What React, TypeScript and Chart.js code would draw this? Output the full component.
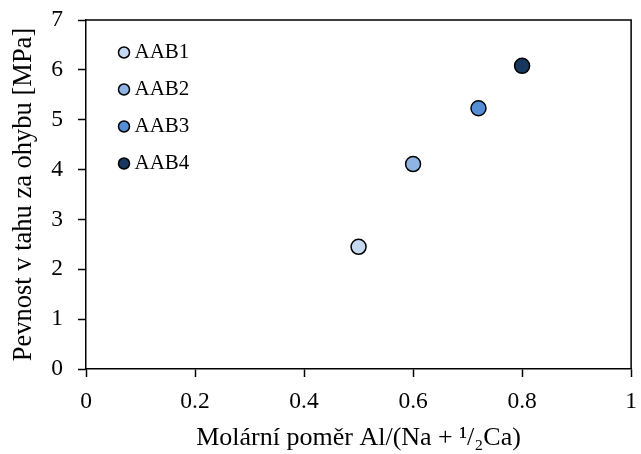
import React, { useEffect, useRef } from "react";
import { Chart, registerables } from "chart.js";

Chart.register(...registerables);

// ---- data ----
const categories = ["AAB1", "AAB2", "AAB3", "AAB4"];
const molarRatio = [0.5, 0.6, 0.72, 0.8];
const flexuralStrength = [2.45, 4.11, 5.23, 6.08];
const xTickValues = [0, 0.2, 0.4, 0.6, 0.8, 1];
const yTickValues = [0, 1, 2, 3, 4, 5, 6, 7];
const xTitle = "Molární poměr Al/(Na + ¹/₂Ca)";
const yTitle = "Pevnost v tahu za ohybu [MPa]";

// ---- styles ----
const pointColors = ["#c6d9f1", "#8db4e2", "#558ed5", "#17375e"];
const FONT = "'Liberation Serif', 'Times New Roman', 'DejaVu Serif', serif";

const framePlugin = {
  id: "frame",
  beforeDatasetsDraw(chart: any) {
    const { ctx, chartArea } = chart;
    ctx.save();
    ctx.strokeStyle = "#000";
    ctx.lineWidth = 1.5;
    ctx.beginPath();
    ctx.moveTo(chartArea.left, chartArea.top);
    ctx.lineTo(chartArea.right, chartArea.top);
    ctx.lineTo(chartArea.right, chartArea.bottom);
    ctx.stroke();
    ctx.restore();
  },
};

const legendOffsetPlugin = {
  id: "legendOffset",
  afterLayout(chart: any) {
    const lg = chart.legend;
    if (lg) {
      lg.left = chart.chartArea.left + 22;
      lg.top = chart.chartArea.top + 6;
    }
  },
};

export default function App() {
  const ref = useRef<HTMLCanvasElement | null>(null);

  useEffect(() => {
    document.body.style.margin = "0";
    const canvas = ref.current;
    if (!canvas) return;
    const chart = new Chart(canvas, {
      type: "scatter",
      data: {
        datasets: categories.map((name, i) => ({
          label: name,
          data: [{ x: molarRatio[i], y: flexuralStrength[i] }],
          backgroundColor: pointColors[i],
          borderColor: "#000",
          borderWidth: 1.5,
          pointRadius: 7.5,
          pointStyle: "circle",
        })),
      },
      options: {
        responsive: false,
        animation: false,
        events: [],
        layout: { padding: { top: 20, right: 8, left: 0, bottom: 0 } },
        plugins: {
          tooltip: { enabled: false },
          legend: {
            position: "chartArea",
            align: "start",
            labels: {
              usePointStyle: true,
              pointStyle: "circle",
              boxWidth: 0.01,
              boxHeight: 7.8,
              padding: 16,
              color: "#000",
              font: { family: FONT, size: 21 },
            },
          },
        },
        scales: {
          x: {
            type: "linear",
            min: 0,
            max: 1,
            afterFit(scale: any) {
              scale.height = 85;
            },
            afterBuildTicks(scale: any) {
              scale.ticks = xTickValues.map((v) => ({ value: v }));
            },
            ticks: {
              color: "#000",
              padding: 4,
              font: { family: FONT, size: 23.5, lineHeight: 1.75 },
              maxRotation: 0,
              callback: (v: any) => String(v),
            },
            grid: {
              display: true,
              drawOnChartArea: false,
              drawTicks: true,
              tickLength: 8,
              tickColor: "#000",
              tickWidth: 1.5,
            },
            border: { display: true, color: "#000", width: 1.5 },
            title: {
              display: true,
              text: xTitle,
              color: "#000",
              font: { family: FONT, size: 26, lineHeight: 1.2 },
              padding: { top: 0, bottom: 0 },
            },
          },
          y: {
            type: "linear",
            min: 0,
            max: 7,
            afterFit(scale: any) {
              scale.width = 86;
            },
            afterBuildTicks(scale: any) {
              scale.ticks = yTickValues.map((v) => ({ value: v }));
            },
            ticks: {
              color: "#000",
              padding: 15,
              font: { family: FONT, size: 23.5, lineHeight: 0.3 },
              callback: (v: any) => String(v),
            },
            grid: {
              display: true,
              drawOnChartArea: false,
              drawTicks: true,
              tickLength: 8,
              tickColor: "#000",
              tickWidth: 1.5,
            },
            border: { display: true, color: "#000", width: 1.5 },
            title: {
              display: true,
              text: yTitle,
              color: "#000",
              font: { family: FONT, size: 26.5, lineHeight: 1.2 },
              padding: { top: 8, bottom: 0 },
            },
          },
        },
      },
      plugins: [framePlugin, legendOffsetPlugin],
    } as any);
    return () => chart.destroy();
  }, []);

  return (
    <div style={{ width: 641, height: 454 }}>
      <canvas ref={ref} width={641} height={454} style={{ display: "block" }} />
    </div>
  );
}
